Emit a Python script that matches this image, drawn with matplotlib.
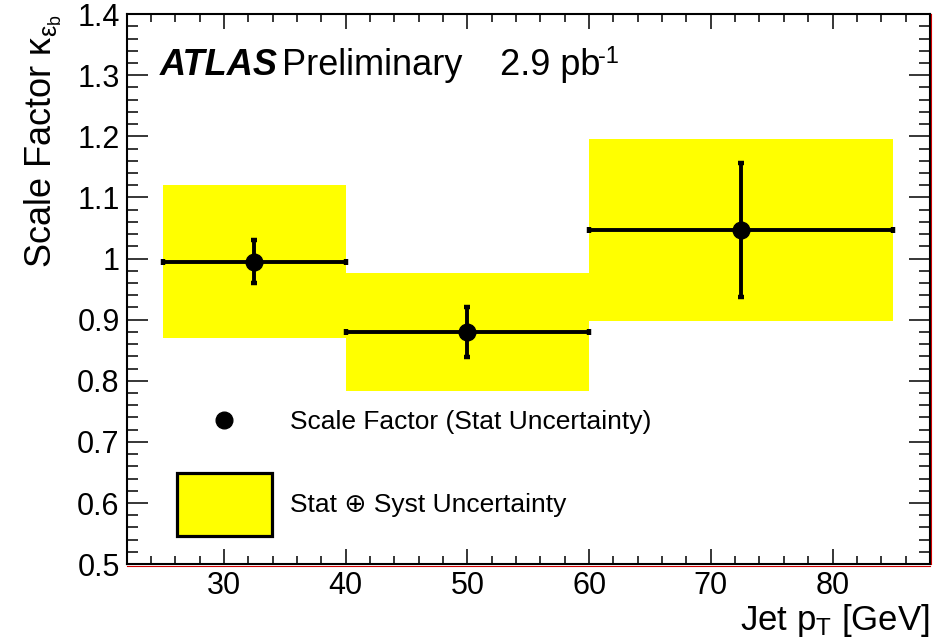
import numpy as np
import matplotlib
matplotlib.use("Agg")
import matplotlib.pyplot as plt
import matplotlib.transforms as mtransforms
from matplotlib.lines import Line2D
from matplotlib.patches import Patch

plt.rcParams['font.family'] = ['Liberation Sans', 'DejaVu Sans']
plt.rcParams['mathtext.fontset'] = 'custom'
plt.rcParams['mathtext.rm'] = 'Liberation Sans'
plt.rcParams['mathtext.it'] = 'Liberation Sans:italic'
plt.rcParams['mathtext.bf'] = 'Liberation Sans:bold'

# b-tag scale factor per jet pT bin
bin_lo = np.array([25, 40, 60])
bin_hi = np.array([40, 60, 85])
sf = np.array([0.995, 0.880, 1.047])
stat_err = np.array([0.035, 0.041, 0.110])
tot_err = np.array([0.125, 0.097, 0.149])

centers = (bin_lo + bin_hi) / 2
half_w = (bin_hi - bin_lo) / 2

fig = plt.figure(figsize=(9.45, 6.44), dpi=100)
ax = fig.add_axes([0.134, 0.124, 0.850, 0.854])

# stat+syst bands
ax.bar(bin_lo, 2 * tot_err, bottom=sf - tot_err, width=bin_hi - bin_lo,
       align='edge', color='#ffff00', edgecolor='none', zorder=1)

# points with stat errors
ax.errorbar(centers, sf, xerr=half_w, yerr=stat_err, fmt='o', color='black',
            ms=12, elinewidth=2.8, capsize=2, capthick=3.2, zorder=3)

ax.set_xlim(22, 88)
ax.set_ylim(0.5, 1.4)
ax.set_xticks([30, 40, 50, 60, 70, 80])
ax.set_xticks(np.arange(24, 88, 2), minor=True)
ax.set_yticks(np.arange(0.5, 1.41, 0.1))
ax.set_yticklabels(['0.5', '0.6', '0.7', '0.8', '0.9', '1', '1.1', '1.2', '1.3', '1.4'])
ax.set_yticks(np.arange(0.5, 1.4, 0.02), minor=True)

ax.tick_params(axis='both', which='both', direction='in', top=True, right=True,
               labelsize=22, width=1.1)
ax.tick_params(axis='x', which='major', length=11, pad=5)
ax.tick_params(axis='x', which='minor', length=5.5)
ax.tick_params(axis='y', which='major', length=15, pad=5)
ax.tick_params(axis='y', which='minor', length=8)
for s in ax.spines.values():
    s.set_linewidth(1.5)

# thin red frame edge along bottom and right
off_b = mtransforms.offset_copy(ax.transAxes, fig=fig, x=0, y=-1.5, units='dots')
off_r = mtransforms.offset_copy(ax.transAxes, fig=fig, x=1.5, y=0, units='dots')
ax.plot([0, 1], [0, 0], transform=off_b, color='#d00000', lw=0.8, clip_on=False, zorder=5)
ax.plot([1, 1], [0, 1], transform=off_r, color='#d00000', lw=0.8, clip_on=False, zorder=5)

ax.set_ylabel('Scale Factor \u03ba$_{\\mathrm{\u03b5}_{\\mathrm{b}}}$', fontsize=26, loc='top')
ax.yaxis.set_label_coords(-0.078, 1.0)
ax.set_xlabel(r'Jet p$_{\mathrm{T}}$ [GeV]', fontsize=25, loc='right')
ax.xaxis.set_label_coords(1.0, -0.069)

ax.text(0.041, 0.889, 'ATLAS', transform=ax.transAxes, fontsize=26,
        fontweight='bold', fontstyle='italic', va='baseline')
ax.text(0.194, 0.889, 'Preliminary', transform=ax.transAxes, fontsize=26,
        va='baseline')
ax.text(0.4645, 0.889, '2.9 pb', transform=ax.transAxes, fontsize=26,
        va='baseline')
ax.text(0.5866, 0.912, '-1', transform=ax.transAxes, fontsize=17,
        va='baseline')

# two legend entries, each with its own handle height
leg_kw = dict(frameon=False, fontsize=19, handlelength=3.6, handletextpad=0.68,
              borderpad=0, borderaxespad=0, loc='center left')
leg1 = ax.legend([Line2D([], [], marker='o', color='black', ls='none', ms=12)],
                 ['Scale Factor (Stat Uncertainty)'],
                 bbox_to_anchor=(0.0623, 0.258), handleheight=0.7, **leg_kw)
ax.add_artist(leg1)
ax.legend([Patch(facecolor='#ffff00', edgecolor='black', linewidth=2.3)],
          ['Stat \u2295 Syst Uncertainty'],
          bbox_to_anchor=(0.0623, 0.108), handleheight=3.3, **leg_kw)

fig.savefig('out.png', dpi=100)
